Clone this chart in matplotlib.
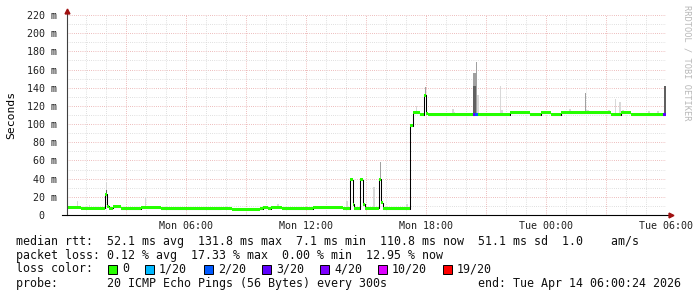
import matplotlib
matplotlib.use("Agg")
import matplotlib.pyplot as plt
from matplotlib.patches import Rectangle

W, H = 697, 297
MONO = "DejaVu Sans Mono"

# median rtt, as steps: start hour (since Mon 00:00), median in ms, loss category
seg_start = [0.07, 0.77, 1.97, 2.05, 2.14, 2.37, 2.77, 3.77, 4.77, 7.77,
             8.30, 9.05, 9.72, 9.88, 10.12, 10.27, 10.80, 12.37, 13.87, 14.22,
             14.35, 14.43, 14.72, 14.85, 14.97, 15.67, 15.75, 15.87, 17.23, 17.34,
             17.72, 17.92, 18.02, 18.09, 20.37, 20.45, 20.62, 22.22, 23.22, 23.77,
             24.27, 24.77, 27.27, 27.77, 28.27, 29.87]
seg_median = [8.4, 7.2, 22.7, 9.9, 7.2, 9.2, 7.0, 8.0, 7.0, 7.3,
              6.2, 6.6, 7.0, 8.0, 7.0, 8.4, 7.0, 8.0, 7.0, 39.0,
              12.1, 7.0, 39.0, 12.1, 7.3, 39.2, 13.5, 7.0, 98.0, 112.5,
              110.3, 132.0, 111.9, 110.3, 110.3, 110.3, 110.3, 112.5, 110.3, 112.3,
              110.3, 112.3, 110.3, 112.3, 110.3, 110.3]
seg_loss = [0] * 34 + [3, 2] + [0] * 9 + [3]
end_hour = 30.0

# smoke (spread of the pings): start hour, width in hours, low / high ms, shade level
smoke_start = [0.57, 1.17, 1.99, 1.99, 3.97, 10.55, 13.47, 14.00, 15.37, 15.69,
               16.99, 17.50, 17.96, 19.29, 19.40, 20.37, 20.37, 20.52, 20.54, 21.72,
               21.74, 25.13, 25.97, 26.02, 27.12, 27.47, 27.67, 27.82, 29.12, 29.57,
               29.88]
smoke_width = [0.05, 0.05, 0.08, 0.08, 0.04, 0.10, 0.05, 0.10, 0.10, 0.05,
               0.10, 0.05, 0.06, 0.10, 0.08, 0.15, 0.15, 0.04, 0.10, 0.04,
               0.10, 0.10, 0.05, 0.15, 0.10, 0.05, 0.10, 0.10, 0.10, 0.10,
               0.12]
smoke_lo = [8, 8, 20, 22, 8, 8, 8, 8, 8, 39,
            8, 112, 132, 111, 111, 111, 111, 111, 111, 111,
            111, 112, 112, 112, 112, 111, 111, 112, 110, 110,
            110]
smoke_hi = [15.7, 11, 36, 28, 20, 12, 10, 15, 31, 58,
            12, 120, 141, 117, 113.5, 156, 142, 168, 132, 142,
            115, 116.6, 134, 115.5, 115, 127.6, 124.7, 116, 114, 114,
            142]
smoke_level = [0, 0, 0, 2, 0, 0, 0, 0, 0, 1,
               0, 0, 1, 0, 0, 1, 2, 1, 0, 0,
               0, 0, 1, 0, 0, 0, 0, 0, 0, 0,
               2]

loss_labels = ["0", "1/20", "2/20", "3/20", "4/20", "10/20", "19/20"]
loss_colors = ["#26ff00", "#00b8ff", "#0059ff", "#5e00ff", "#7e00ff", "#dd00ff", "#ff0000"]
smoke_colors = ["#d8d8d8", "#a0a0a0", "#606060"]

y_ticks = list(range(0, 221, 20))
x_ticks = [6, 12, 18, 24, 30]
x_labels = ["Mon 06:00", "Mon 12:00", "Mon 18:00", "Tue 00:00", "Tue 06:00"]

legend_lines = [
    "median rtt:  52.1 ms avg  131.8 ms max  7.1 ms min  110.8 ms now  51.1 ms sd  1.0    am/s",
    "packet loss: 0.12 % avg  17.33 % max  0.00 % min  12.95 % now",
]
probe_text = "probe:       20 ICMP Echo Pings (56 Bytes) every 300s"
end_text = "end: Tue Apr 14 06:00:24 2026"

fig = plt.figure(figsize=(W / 100, H / 100), dpi=100)
fig.patch.set_facecolor("white")
ax = fig.add_axes([67 / W, 1 - 215 / H, 599 / W, 200 / H])
ax.set_xlim(0.065, 30.0)
ax.set_ylim(0, 220)
for s in ax.spines.values():
    s.set_visible(False)

# grid
minor_c, major_c = "#d6d6d6", "#e8a8a8"
dots = (0, (0.72, 1.44))
for v in range(10, 221, 10):
    ax.axhline(v, color=major_c if v % 20 == 0 else minor_c, lw=0.72, ls=dots, zorder=0)
for h in range(1, 30):
    ax.axvline(h, color=major_c if h % 3 == 0 else minor_c, lw=0.72, ls=dots, zorder=0)

# smoke
ax.bar(smoke_start, [hi - lo for hi, lo in zip(smoke_hi, smoke_lo)], width=smoke_width,
       bottom=smoke_lo, align="edge", color=[smoke_colors[l] for l in smoke_level],
       linewidth=0, zorder=1)

# median line + loss coloured band
xs = seg_start + [end_hour]
ys = seg_median + [seg_median[-1]]
ax.step(xs, ys, where="post", color="black", lw=0.75, zorder=2)
durs = [b - a for a, b in zip(seg_start, seg_start[1:] + [end_hour])]
band = 3.3
ax.bar(seg_start, band, width=durs, bottom=[m - band / 2 for m in seg_median],
       align="edge", color=[loss_colors[l] for l in seg_loss], linewidth=0, zorder=3)

# axes with arrows
ax.plot([0, 0], [0, 1.015], transform=ax.transAxes, color="#404040", lw=0.8,
        clip_on=False, zorder=5)
ax.plot([-0.009, 1.006], [0, 0], transform=ax.transAxes, color="black", lw=0.8,
        clip_on=False, zorder=5)
ax.plot([0], [1.02], marker="^", ms=3.5, color="#a01010", transform=ax.transAxes,
        clip_on=False, zorder=6)
ax.plot([1.009], [0], marker=">", ms=3.5, color="#a01010", transform=ax.transAxes,
        clip_on=False, zorder=6)

# ticks
ax.set_xticks(x_ticks)
ax.set_xticklabels(x_labels, fontfamily=MONO, fontsize=7.2)
ax.set_yticks(y_ticks)
ax.set_yticklabels([f"{v} m" if v else "0  " for v in y_ticks], fontfamily=MONO, fontsize=7.2)
ax.tick_params(length=0, pad=7, colors="#202020")
ax.tick_params(axis="x", pad=4)

ax.set_ylabel("Seconds", fontfamily=MONO, fontsize=8.2, labelpad=8)

fig.text(687 / W, 1 - 5 / H, "RRDTOOL / TOBI OETIKER", rotation=270, ha="center", va="top",
         fontfamily=MONO, fontsize=6.2, color="#b8b8b8")

# legend text
def px_text(x, y, s, ha="left"):
    fig.text(x / W, 1 - y / H, s, fontfamily=MONO, fontsize=8.4, va="center", ha=ha,
             color="#101010")

px_text(16, 241, legend_lines[0])
px_text(16, 255, legend_lines[1])
px_text(16, 269, "loss color:")
box_x = [108, 145, 204, 262, 320, 378, 443]
for bx, lab, col in zip(box_x, loss_labels, loss_colors):
    fig.patches.append(Rectangle((bx / W, 1 - 274 / H), 9 / W, 9 / H, transform=fig.transFigure,
                                 facecolor=col, edgecolor="black", lw=0.7))
    px_text(bx + 14, 269, lab)
px_text(16, 283, probe_text)
px_text(681, 283, end_text, ha="right")

fig.savefig("out.png", dpi=100, facecolor="white")
